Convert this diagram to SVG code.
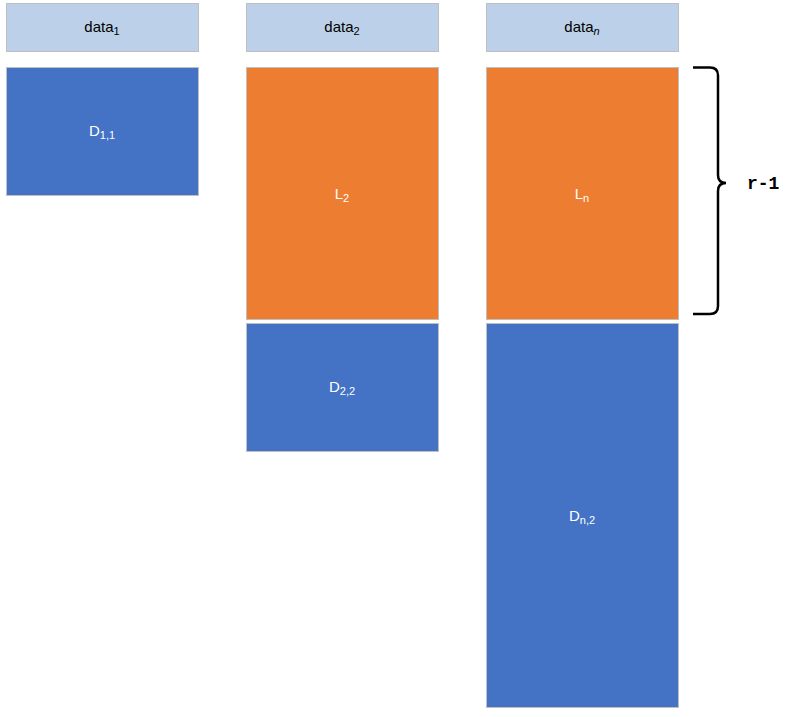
<svg xmlns="http://www.w3.org/2000/svg" width="805" height="717" viewBox="0 0 805 717">
<style>
.hdr{fill:#BDD0E9;stroke:#BFBFBF;stroke-width:1}
.blue{fill:#4472C4;stroke:#BFBFBF;stroke-width:1}
.orange{fill:#ED7D31;stroke:#BFBFBF;stroke-width:1}
.t{font-family:"Liberation Sans",Arial,sans-serif;font-size:15px;text-anchor:middle}
.dk{fill:#000000}
.wt{fill:#FFFFFF}
.sub{font-size:11px}
.brace{fill:none;stroke:#000000;stroke-width:2.5}
.lbl{font-family:"Liberation Mono","Courier New",monospace;font-size:18px;font-weight:bold;fill:#000000}
</style>
<rect width="805" height="717" fill="#FFFFFF"/>
<g id="header1"><rect class="hdr" x="6.5" y="3.5" width="192" height="48"/><text class="t dk" x="102" y="32">data<tspan class="sub" dy="3">1</tspan></text></g>
<g id="header2"><rect class="hdr" x="246.5" y="3.5" width="192" height="48"/><text class="t dk" x="342" y="32">data<tspan class="sub" dy="3">2</tspan></text></g>
<g id="headern"><rect class="hdr" x="486.5" y="3.5" width="192" height="48"/><text class="t dk" x="582" y="32">data<tspan class="sub" dy="3" font-style="italic">n</tspan></text></g>
<g id="D11"><rect class="blue" x="6.5" y="67.5" width="192" height="128"/><text class="t wt" x="102" y="136">D<tspan class="sub" dy="3">1,1</tspan></text></g>
<g id="L2"><rect class="orange" x="246.5" y="67.5" width="192" height="252"/><text class="t wt" x="342" y="199">L<tspan class="sub" dy="3">2</tspan></text></g>
<g id="D22"><rect class="blue" x="246.5" y="323.5" width="192" height="128"/><text class="t wt" x="342" y="392">D<tspan class="sub" dy="3">2,2</tspan></text></g>
<g id="Ln"><rect class="orange" x="486.5" y="67.5" width="192" height="252"/><text class="t wt" x="582" y="199">L<tspan class="sub" dy="3">n</tspan></text></g>
<g id="Dn2"><rect class="blue" x="486.5" y="323.5" width="192" height="384"/><text class="t wt" x="582" y="521">D<tspan class="sub" dy="3">n,2</tspan></text></g>
<g id="connectors">
<path class="brace" d="M693,67.5 H710 Q718,67.5 718,75.5 V175 Q718,183 726,183 Q718,183 718,191 V306 Q718,314 710,314 H693"/>
</g>
<g id="bracelabel"><text class="lbl" x="747" y="189">r-1</text></g>
</svg>
